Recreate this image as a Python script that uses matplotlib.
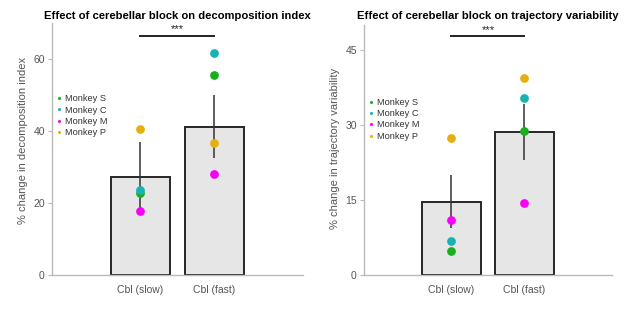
import numpy as np
import matplotlib.pyplot as plt

plt.rcParams['font.family'] = ['Liberation Sans', 'DejaVu Sans']

# Conditions
categories = ["Cbl (slow)", "Cbl (fast)"]
monkeys = ["Monkey S", "Monkey C", "Monkey M", "Monkey P"]
monkey_colors = ["#1aae1a", "#17b2b2", "#f700f7", "#e6b00c"]

# Panel 1: decomposition index
decomp_mean = [27.2, 41.2]
decomp_err = [9.8, 8.8]
decomp_points = {
    "Monkey S": [22.7, 55.6],
    "Monkey C": [23.6, 61.6],
    "Monkey M": [17.8, 28.0],
    "Monkey P": [40.6, 36.6],
}

# Panel 2: trajectory variability
traj_mean = [14.7, 28.7]
traj_err = [5.3, 5.6]
traj_points = {
    "Monkey S": [4.8, 28.8],
    "Monkey C": [6.8, 35.5],
    "Monkey M": [11.0, 14.4],
    "Monkey P": [27.4, 39.4],
}


def draw_panel(ax, means, errs, points, title, ylabel, ylim, yticks, sig_y,
               label_y, legend_y, title_pad):
    x = np.arange(len(categories))
    ax.bar(x, means, width=0.8, color="#e6e6e6", edgecolor="#262626",
           linewidth=1.4, zorder=1)
    ax.errorbar(x, means, yerr=errs, fmt="none", ecolor="#333333",
                elinewidth=1.1, capsize=0, zorder=2)
    for name, col in zip(monkeys, monkey_colors):
        ax.plot(x, points[name], "o", color=col, markersize=6.3,
                markeredgewidth=0, label=name, zorder=3)
    # significance bar
    ax.plot([0, 1], [sig_y, sig_y], color="#222222", linewidth=1.4,
            clip_on=False)
    ax.text(0.5, sig_y + (ylim[1] * 0.004), "***", ha="center", va="bottom",
            fontsize=8, color="#222222")
    ax.set_xlim(-1.2, 2.2)
    ax.set_ylim(*ylim)
    ax.set_yticks(yticks)
    ax.set_xticks(x)
    ax.set_xticklabels(categories)
    ax.set_title(title, fontsize=8.1, fontweight="bold", pad=title_pad)
    ax.set_ylabel(ylabel, fontsize=8, color="#555555")
    ax.yaxis.set_label_coords(-0.095, label_y)
    for s in ["top", "right"]:
        ax.spines[s].set_visible(False)
    for s in ["left", "bottom"]:
        ax.spines[s].set_color("#bbbbbb")
        ax.spines[s].set_linewidth(1.0)
    ax.tick_params(axis="both", colors="#bbbbbb", labelcolor="#555555",
                   labelsize=7.5, length=3)
    ax.tick_params(axis="y", pad=2)
    ax.tick_params(axis="x", length=0, pad=7)
    ax.legend(loc="upper left", bbox_to_anchor=(-0.01, legend_y), frameon=False,
              fontsize=6.7, markerscale=0.35, handlelength=0.6,
              handletextpad=0.4, labelspacing=0.25, borderaxespad=0.3,
              labelcolor="#333333")


fig = plt.figure(figsize=(6.24, 3.10), dpi=100)
ax1 = fig.add_axes([0.083, 0.113, 0.402, 0.813])
ax2 = fig.add_axes([0.583, 0.113, 0.398, 0.806])

draw_panel(ax1, decomp_mean, decomp_err, decomp_points,
           "Effect of cerebellar block on decomposition index",
           "% change in decomposition index", (0, 70), [0, 20, 40, 60], 66.5,
           0.535, 0.743, 3)
draw_panel(ax2, traj_mean, traj_err, traj_points,
           "Effect of cerebellar block on trajectory variability",
           "% change in trajectory variability", (0, 50), [0, 15, 30, 45], 47.9,
           0.505, 0.735, 4.5)

fig.savefig("out.png", dpi=100)
